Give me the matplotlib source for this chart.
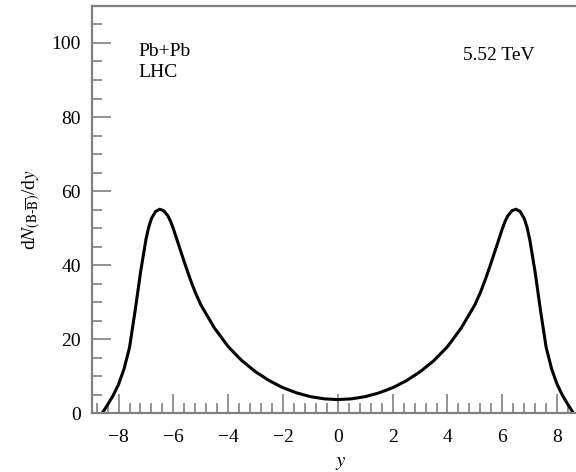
import matplotlib.pyplot as plt
from matplotlib.ticker import MultipleLocator

# rapidity y and net-baryon dN/dy
rap = [-8.6, -8.4, -8.2, -8.0, -7.8, -7.6, -7.4, -7.2, -7.0, -6.9, -6.8, -6.65,
       -6.5, -6.35, -6.2, -6.1, -6.0, -5.8, -5.6, -5.4, -5.2, -5.0, -4.5, -4.0,
       -3.5, -3.0, -2.5, -2.0, -1.5, -1.0, -0.5, 0.0,
       0.5, 1.0, 1.5, 2.0, 2.5, 3.0, 3.5, 4.0, 4.5, 5.0, 5.2, 5.4, 5.6, 5.8,
       6.0, 6.1, 6.2, 6.35, 6.5, 6.65, 6.8, 6.9, 7.0, 7.2, 7.4, 7.6, 7.8, 8.0,
       8.2, 8.4, 8.6]
dndy = [0.0, 2.3, 4.8, 7.8, 12.0, 17.8, 27.5, 38.0, 47.0, 50.3, 52.6, 54.5,
        55.1, 54.7, 53.3, 51.8, 49.8, 45.3, 40.8, 36.5, 32.6, 29.3, 23.0, 18.0,
        14.2, 11.2, 8.8, 6.9, 5.5, 4.5, 3.9, 3.7,
        3.9, 4.5, 5.5, 6.9, 8.8, 11.2, 14.2, 18.0, 23.0, 29.3, 32.6, 36.5, 40.8, 45.3,
        49.8, 51.8, 53.3, 54.7, 55.1, 54.5, 52.6, 50.3, 47.0, 38.0, 27.5, 17.8, 12.0, 7.8,
        4.8, 2.3, 0.0]

plt.rcParams['font.family'] = ['Liberation Serif', 'DejaVu Serif']
plt.rcParams['mathtext.fontset'] = 'stix'

fig = plt.figure(figsize=(5.76, 4.72), dpi=100)
ax = fig.add_axes([0.1597, 0.1244, 0.8646, 0.863])

ax.plot(rap, dndy, color='black', lw=2.2, solid_capstyle='round', solid_joinstyle='round')

ax.set_xlim(-8.97, 9.2)
ax.set_ylim(0, 110)

grey = '#808080'
for side in ['left', 'top', 'bottom']:
    ax.spines[side].set_color(grey)
    ax.spines[side].set_linewidth(1.6)
ax.spines['right'].set_visible(False)

ax.xaxis.set_major_locator(MultipleLocator(2))
ax.xaxis.set_minor_locator(MultipleLocator(0.4))
ax.yaxis.set_major_locator(MultipleLocator(20))
ax.yaxis.set_minor_locator(MultipleLocator(5))
ax.tick_params(which='both', direction='in', color=grey, width=1.2,
               labelsize=14, top=False, right=False)
ax.tick_params(which='major', length=14, pad=8)
ax.tick_params(axis='x', which='major', pad=11.5)
ax.tick_params(which='minor', length=7)

ax.set_xlabel(r'$y$', fontsize=15, labelpad=5)
ax.set_ylabel(r'd$N_{(\mathrm{B}\text{-}\overline{\mathrm{B}})}$/d$y$', fontsize=14, labelpad=6)

ax.text(-7.29, 100, 'Pb+Pb\nLHC', fontsize=14, va='top', ha='left', linespacing=1.3)
ax.text(4.57, 99, '5.52 TeV', fontsize=14, va='top', ha='left')

fig.savefig('out.png', dpi=100)
